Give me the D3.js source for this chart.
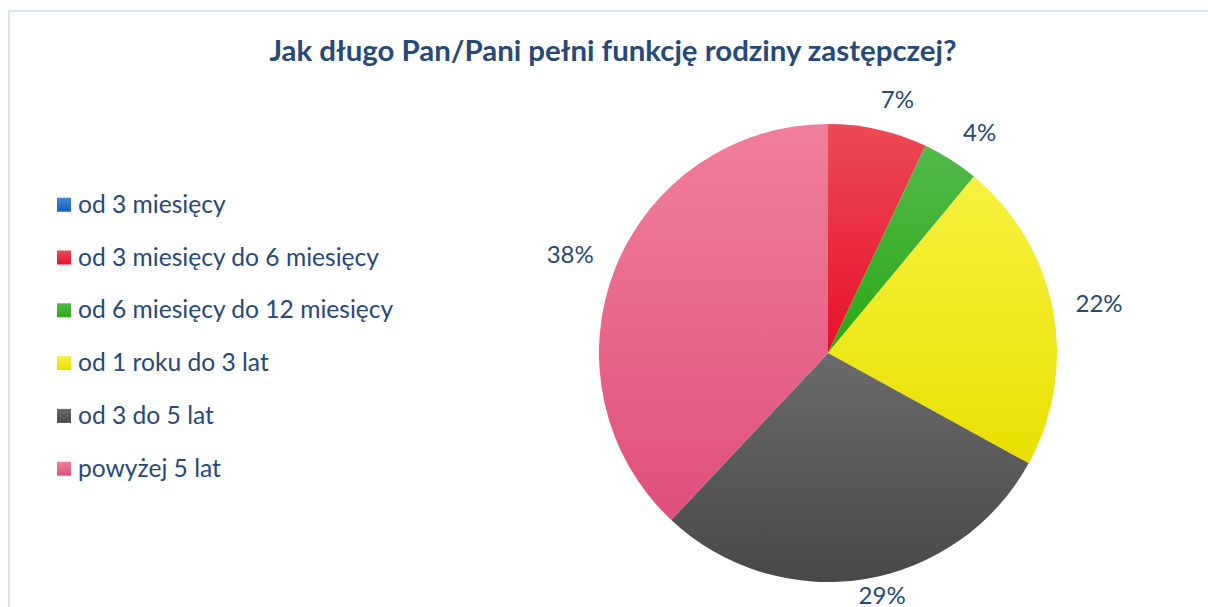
<!DOCTYPE html>
<html>
<head>
<meta charset="utf-8">
<script src="https://cdn.jsdelivr.net/npm/d3@7"></script>
<style>
  html, body { margin: 0; padding: 0; background: #fff; }
  svg { display: block; }
</style>
</head>
<body>
<svg width="1208" height="607"></svg>
<script>
// data
var categories = ["od 3 miesięcy", "od 3 miesięcy do 6 miesięcy", "od 6 miesięcy do 12 miesięcy",
                  "od 1 roku do 3 lat", "od 3 do 5 lat", "powyżej 5 lat"];
var values = [0, 7, 4, 22, 29, 38];
var title = "Jak długo Pan/Pani pełni funkcję rodziny zastępczej?";

// gradient colours per slice (top, bottom)
var topColors = ["#4a88d4", "#ec4a55", "#52b94a", "#f6f240", "#6b6b6b", "#f07f9b"],
    botColors = ["#0f5fbf", "#e8102a", "#2ba814", "#e9e000", "#484848", "#df4f7b"];

var svg = d3.select("svg"),
    width = +svg.attr("width"),
    height = +svg.attr("height"),
    textClr = "#25497a",
    font = "Lato, 'Open Sans', sans-serif";

var cx = 828, cy = 353, radius = 229;

/***********************************************************************************************/

// frame
svg.append("rect")
  .attr("x", 9).attr("y", 11).attr("width", width + 20).attr("height", height + 20)
  .style("fill", "none").style("stroke", "#d7e3f4").style("stroke-width", 2);

// gradients
var defs = svg.append("defs");
categories.forEach(function(d, i){
  var g = defs.append("linearGradient").attr("id", "grad" + i)
    .attr("x1", 0).attr("y1", 0).attr("x2", 0).attr("y2", 1);
  g.append("stop").attr("offset", "0%").attr("stop-color", topColors[i]);
  g.append("stop").attr("offset", "100%").attr("stop-color", botColors[i]);
});

// title
svg.append("text")
  .attr("x", 613).attr("y", 61)
  .attr("text-anchor", "middle")
  .style("font-family", font).style("font-weight", "bold").style("font-size", "29.4px")
  .style("fill", textClr)
  .text(title);

/***********************************************************************************************/

// pie
var pie = d3.pie().sort(null).value(function(d){ return d; });
var arc = d3.arc().innerRadius(0).outerRadius(radius);
var arcs = pie(values);

var gPie = svg.append("g").attr("transform", "translate(" + cx + "," + cy + ")");

gPie.selectAll("path.slice")
  .data(arcs.filter(function(d){ return d.value > 0; }))
  .enter().append("path")
  .attr("class", "slice")
  .attr("d", arc)
  .style("fill", function(d){ return "url(#grad" + d.index + ")"; });

// labels: anchor just outside the rim, box pushed outwards
var labelR = radius + 23, capH = 17, maxY = 594 - cy;
gPie.selectAll("text.lbl")
  .data(arcs.filter(function(d){ return d.value > 0; }))
  .enter().append("text")
  .attr("class", "lbl")
  .style("font-family", font).style("font-size", "24px").style("fill", textClr)
  .attr("text-anchor", "middle").attr("dominant-baseline", "central")
  .text(function(d){ return d.value + "%"; })
  .each(function(d){
    var a = (d.startAngle + d.endAngle) / 2,
        ux = Math.sin(a), uy = -Math.cos(a),
        w = this.getComputedTextLength(),
        x = labelR * ux + (w / 2) * Math.max(-1, Math.min(1, ux * 4)),
        y = labelR * uy + (capH / 2) * Math.max(-1, Math.min(1, uy * 2));
    y = Math.min(y, maxY);
    d3.select(this).attr("x", x).attr("y", y);
  });

/***********************************************************************************************/

// legend
var legendY = d3.scaleLinear().domain([0, 1]).range([212.7, 265.5]);
var legend = svg.append("g");
var items = legend.selectAll("g").data(categories).enter().append("g")
  .attr("transform", function(d, i){ return "translate(0," + legendY(i) + ")"; });

items.append("rect")
  .attr("x", 57).attr("y", -15).attr("width", 14).attr("height", 14)
  .style("fill", function(d, i){ return "url(#grad" + i + ")"; });

items.append("text")
  .attr("x", 78).attr("y", 0)
  .style("font-family", font).style("font-size", "24.6px").style("fill", textClr)
  .text(function(d){ return d; });
</script>
</body>
</html>
